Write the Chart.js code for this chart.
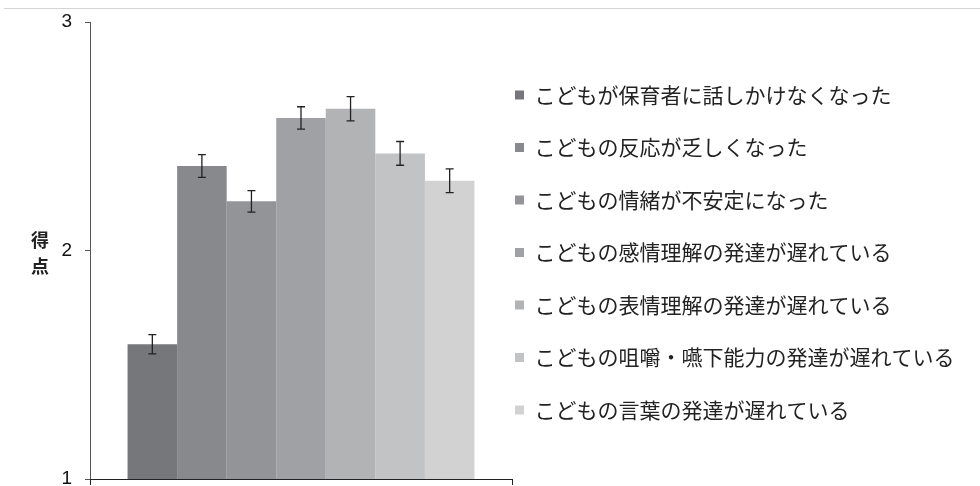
<!DOCTYPE html>
<html lang="ja">
<head>
<meta charset="utf-8">
<title>得点</title>
<script src="https://cdn.jsdelivr.net/npm/chart.js@4.4.1/dist/chart.umd.min.js"></script>
<style>
  html, body { margin: 0; padding: 0; background: #fff; }
  #wrap { position: relative; width: 980px; height: 486px; }
  #rule { position: absolute; left: 4px; right: 0; top: 8px; height: 1px; background: #d4d4d4; }
  #chart { position: absolute; left: 0; top: 0; }
</style>
</head>
<body>
<div id="wrap">
  <div id="rule"></div>
  <canvas id="chart" width="980" height="486"></canvas>
</div>
<script>
// one bar per item
const items = [
    'こどもが保育者に話しかけなくなった',
    'こどもの反応が乏しくなった',
    'こどもの情緒が不安定になった',
    'こどもの感情理解の発達が遅れている',
    'こどもの表情理解の発達が遅れている',
    'こどもの咀嚼・嚥下能力の発達が遅れている',
    'こどもの言葉の発達が遅れている'
];
const means = [1.59, 2.37, 2.215, 2.58, 2.62, 2.425, 2.305];
const errors = [0.042, 0.05, 0.047, 0.049, 0.053, 0.052, 0.052];
const yTicks = [1, 2, 3];
const yTitle = ['得', '点'];

const barColors = ['#76777b', '#88898d', '#939498', '#a0a1a5', '#b2b3b5', '#c2c3c5', '#d2d2d2'];

// error bars on top of each bar
const errorBars = {
    id: 'errorBars',
    afterDatasetsDraw(chart) {
        const ctx = chart.ctx;
        const yScale = chart.scales.y;
        ctx.save();
        ctx.strokeStyle = '#222';
        ctx.lineWidth = 1.3;
        chart.data.datasets.forEach((ds, i) => {
            const bar = chart.getDatasetMeta(i).data[0];
            const top = yScale.getPixelForValue(ds.data[0] + errors[i]);
            const bottom = yScale.getPixelForValue(ds.data[0] - errors[i]);
            ctx.beginPath();
            ctx.moveTo(bar.x, top);
            ctx.lineTo(bar.x, bottom);
            ctx.moveTo(bar.x - 4, top);
            ctx.lineTo(bar.x + 4, top);
            ctx.moveTo(bar.x - 4, bottom);
            ctx.lineTo(bar.x + 4, bottom);
            ctx.stroke();
        });
        ctx.restore();
    }
};

// stacked (upright) axis title
const yTitlePlugin = {
    id: 'yTitle',
    afterDraw(chart) {
        const { ctx, chartArea } = chart;
        const mid = (chartArea.top + chartArea.bottom) / 2;
        ctx.save();
        ctx.font = 'bold 18px "Noto Sans CJK JP", sans-serif';
        ctx.fillStyle = '#222';
        ctx.textAlign = 'center';
        ctx.textBaseline = 'middle';
        yTitle.forEach((ch, i) => {
            ctx.fillText(ch, chartArea.left - 50, mid - 10 + i * 26);
        });
        ctx.restore();
    }
};

// keep the legend close to the plot even with big row spacing
const legendPlace = {
    id: 'legendPlace',
    beforeDraw(chart) {
        const lg = chart.legend;
        const pad = lg.options.labels.padding;
        lg.left = chart.chartArea.right + 3 - pad;
        lg.right = chart.width;
        lg.top = chart.chartArea.top - 1;
        lg.bottom = chart.height - 2;
    }
};

const datasets = items.map((name, i) => ({
    label: name,
    data: [means[i]],
    backgroundColor: barColors[i],
    borderWidth: 0,
    barPercentage: 1,
    categoryPercentage: 0.822
}));

new Chart(document.getElementById('chart'), {
    type: 'bar',
    data: { labels: [''], datasets: datasets },
    options: {
        responsive: false,
        animation: false,
        layout: { padding: { left: 62, top: 22, right: 368, bottom: 1 } },
        scales: {
            x: {
                grid: { drawOnChartArea: false, tickLength: 6, color: '#222', offset: true },
                border: { color: '#222', width: 1, z: 1 },
                ticks: { display: false },
                afterFit: s => {
                    s.paddingLeft = 0;
                    s.paddingRight = 0;
                }
            },
            y: {
                min: 1,
                max: 3,
                afterBuildTicks: scale => {
                    scale.ticks = yTicks.map(v => ({ value: v }));
                },
                afterFit: s => {
                    s.width = 28;
                    s.paddingTop = 0;
                    s.paddingBottom = 0;
                },
                grid: { drawOnChartArea: false, tickLength: 5, color: '#555' },
                border: { color: '#555', width: 1 },
                ticks: {
                    padding: 13,
                    color: '#111',
                    font: { family: '"Liberation Sans", Arial, sans-serif', size: 19 }
                }
            }
        },
        plugins: {
            tooltip: { enabled: false },
            legend: {
                position: 'right',
                align: 'center',
                maxWidth: 100,
                labels: {
                    boxWidth: 9,
                    boxHeight: 9,
                    padding: 31.5,
                    color: '#222',
                    font: { family: '"Noto Sans CJK JP", sans-serif', size: 21 }
                }
            }
        }
    },
    plugins: [errorBars, yTitlePlugin, legendPlace]
});
</script>
</body>
</html>
